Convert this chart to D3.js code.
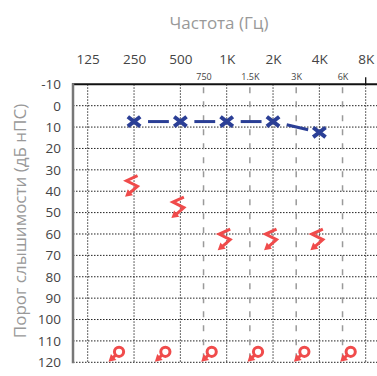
<!DOCTYPE html>
<meta charset="utf-8">
<body style="margin:0; background:#fff">
<div id="chart"></div>
<script src="https://d3js.org/d3.v7.min.js"></script>
<script>
    // data
    const freqLabels = ['125', '250', '500', '1K', '2K', '4K', '8K'];
    const midLabels = ['750', '1.5K', '3K', '6K'];
    const midPos = [2.5, 3.5, 4.5, 5.5];
    const dbTicks = [-10, 0, 10, 20, 30, 40, 50, 60, 70, 80, 90, 100, 110, 120];

    // blue X (air, left ear)
    const airLeftFreq = ['250', '500', '1K', '2K', '4K'];
    const airLeftDb = [10, 10, 10, 10, 15];
    // red < with arrow (bone, right ear, no response)
    const boneRightFreq = ['250', '500', '1K', '2K', '4K'];
    const boneRightDb = [40, 50, 65, 65, 65];
    // red O with arrow (air, right ear, no response)
    const airRightFreq = ['250', '500', '1K', '2K', '4K', '8K'];
    const airRightDb = [120, 120, 120, 120, 120, 120];

    // chart settings
    let svgWidth = 377;
    let svgHeight = 376;
    let plot = {left: 73, right: 377, top: 84.3, bottom: 362.3};
    const blue = '#2b3f96';
    const red = '#f04b4b';
    const font = "'Open Sans', 'Noto Sans', sans-serif";

    let xIdx = d3.scaleLinear().domain([0, 6]).range([87.7, 365.7]);
    let x = f => xIdx(freqLabels.indexOf(f));
    let y = d3.scaleLinear().domain([-10, 120]).range([plot.top, plot.bottom]);

    let svg = d3.select('#chart')
        .append('svg')
        .attr('width', svgWidth)
        .attr('height', svgHeight)
        .style('font-family', font);

    // grid
    svg.append('g').selectAll('line')
        .data(dbTicks.filter(d => d > -10))
        .enter().append('line')
        .attr('x1', plot.left).attr('x2', plot.right)
        .attr('y1', d => y(d)).attr('y2', d => y(d))
        .attr('stroke', '#222').attr('stroke-width', 1)
        .attr('stroke-dasharray', '1.5,1.5');

    svg.append('g').selectAll('line')
        .data(freqLabels)
        .enter().append('line')
        .attr('x1', d => x(d)).attr('x2', d => x(d))
        .attr('y1', plot.top).attr('y2', plot.bottom)
        .attr('stroke', '#333').attr('stroke-width', 1)
        .attr('stroke-dasharray', '1.5,1.5');

    svg.append('g').selectAll('line')
        .data(midPos)
        .enter().append('line')
        .attr('x1', d => xIdx(d)).attr('x2', d => xIdx(d))
        .attr('y1', plot.top + 3).attr('y2', plot.bottom)
        .attr('stroke', '#9a9a9a').attr('stroke-width', 1.5)
        .attr('stroke-dasharray', '6,8');

    // frame lines
    svg.append('line')
        .attr('x1', plot.left - 1).attr('x2', plot.right)
        .attr('y1', plot.top).attr('y2', plot.top)
        .attr('stroke', '#111').attr('stroke-width', 2);
    svg.append('line')
        .attr('x1', plot.left).attr('x2', plot.left)
        .attr('y1', plot.top - 1).attr('y2', plot.bottom + 1)
        .attr('stroke', '#777').attr('stroke-width', 2.5);
    svg.append('line')
        .attr('x1', x('8K')).attr('x2', x('8K'))
        .attr('y1', plot.top - 7).attr('y2', plot.top)
        .attr('stroke', '#111').attr('stroke-width', 1.3);

    // axes
    let topAxis = svg.append('g')
        .attr('transform', 'translate(0, 63.5)')
        .call(d3.axisTop(xIdx).tickValues([0, 1, 2, 3, 4, 5, 6])
            .tickFormat(i => freqLabels[i]).tickSize(0).tickPadding(0));
    topAxis.select('.domain').remove();
    topAxis.selectAll('text').attr('font-size', 13.5).attr('fill', '#444')
        .attr('font-family', font);

    let midAxis = svg.append('g')
        .attr('transform', 'translate(0, 80)')
        .call(d3.axisTop(xIdx).tickValues(midPos)
            .tickFormat((d, i) => midLabels[i]).tickSize(0).tickPadding(0));
    midAxis.select('.domain').remove();
    midAxis.selectAll('text').attr('font-size', 9).attr('fill', '#444')
        .attr('font-family', font);

    let leftAxis = svg.append('g')
        .attr('transform', `translate(${plot.left}, 0)`)
        .call(d3.axisLeft(y).tickValues(dbTicks).tickFormat(d => String(d))
            .tickSize(0).tickPadding(12));
    leftAxis.select('.domain').remove();
    leftAxis.selectAll('text').attr('font-size', 13.5).attr('fill', '#444')
        .attr('font-family', font);

    // titles
    svg.append('text')
        .attr('x', 219).attr('y', 29)
        .attr('text-anchor', 'middle')
        .attr('font-size', 17).attr('fill', '#999')
        .text('Частота (Гц)');
    svg.append('text')
        .attr('transform', 'translate(26, 221) rotate(-90)')
        .attr('text-anchor', 'middle')
        .attr('font-size', 17).attr('fill', '#999')
        .text('Порог слышимости (дБ нПС)');

    // arrow head helper
    function arrowHead(g, fx, fy, tx, ty, len, half, color) {
        let dx = tx - fx, dy = ty - fy;
        let l = Math.sqrt(dx * dx + dy * dy);
        let ux = dx / l, uy = dy / l;
        let bx = tx - ux * len, by = ty - uy * len;
        g.append('path')
            .attr('d', `M${tx},${ty}L${bx - uy * half},${by + ux * half}L${bx + uy * half},${by - ux * half}Z`)
            .attr('fill', color);
    }

    // blue connecting segments
    let airLeft = airLeftFreq.map((f, i) => ({cx: x(f), cy: y(airLeftDb[i]) - 5.5}));
    let seg = svg.append('g');
    for (let i = 0; i < airLeft.length - 1; i++) {
        let a = airLeft[i], b = airLeft[i + 1];
        let dx = b.cx - a.cx, dy = b.cy - a.cy;
        let l = Math.sqrt(dx * dx + dy * dy);
        seg.append('line')
            .attr('x1', a.cx + dx / l * 14).attr('y1', a.cy + dy / l * 14)
            .attr('x2', b.cx - dx / l * 11.5).attr('y2', b.cy - dy / l * 11.5)
            .attr('stroke', blue).attr('stroke-width', 3);
    }

    // X markers
    svg.append('g').selectAll('path')
        .data(airLeft)
        .enter().append('path')
        .attr('transform', d => `translate(${d.cx}, ${d.cy})`)
        .attr('d', 'M-6.2,-4.8L6.2,4.8M-6.2,4.8L6.2,-4.8')
        .attr('stroke', blue).attr('stroke-width', 4).attr('fill', 'none');

    // < markers with arrow
    let bone = svg.append('g');
    boneRightFreq.forEach((f, i) => {
        let g = bone.append('g')
            .attr('transform', `translate(${x(f)}, ${y(boneRightDb[i])})`);
        g.append('path')
            .attr('d', 'M3.5,-15.5L-7.5,-10.5L3.5,-5L-4.5,2')
            .attr('stroke', red).attr('stroke-width', 3).attr('fill', 'none')
            .attr('stroke-linejoin', 'miter');
        arrowHead(g, 3.5, -5, -9, 5.5, 7, 4, red);
    });

    // O markers with arrow
    let airR = svg.append('g');
    airRightFreq.forEach((f, i) => {
        let cx = x(f) - 15, cy = y(airRightDb[i]) - 10.5;
        let g = airR.append('g');
        g.append('line')
            .attr('x1', cx - 3).attr('y1', cy + 3)
            .attr('x2', cx - 7).attr('y2', cy + 6.5)
            .attr('stroke', red).attr('stroke-width', 3);
        arrowHead(g, cx - 3, cy + 3, cx - 10.5, cy + 10, 7, 4, red);
        g.append('circle')
            .attr('cx', cx).attr('cy', cy).attr('r', 4.6)
            .attr('fill', 'none').attr('stroke', red).attr('stroke-width', 3);
    });
</script>
</body>
